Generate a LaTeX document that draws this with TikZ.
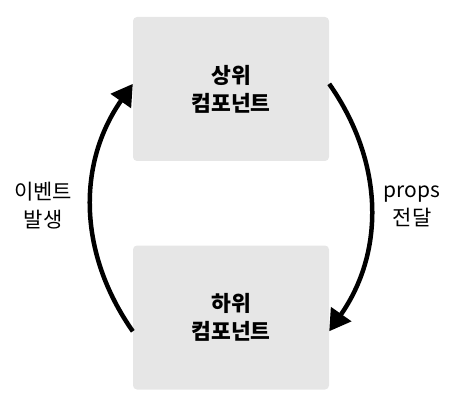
\documentclass[tikz,border=0pt]{standalone}
\usepackage{fontspec}
\newfontfamily\kr{Noto Sans CJK KR}
\usetikzlibrary{arrows.meta}
\begin{document}
\begin{tikzpicture}[x=1pt,y=-1pt,
  box/.style={fill=boxgray, rounded corners=4pt, minimum width=196pt, minimum height=144pt, inner sep=0pt,
    font=\kr\bfseries\fontsize{21.5}{28}\selectfont, align=center},
  lbl/.style={font=\kr\fontsize{21}{28}\selectfont, align=center},
  conn/.style={line width=4.5pt, -{Triangle[length=21pt,width=24pt]}, bend left=35}
]
\definecolor{boxgray}{HTML}{E6E6E6}
\useasboundingbox (0,0) rectangle (466,401);
\node[box] (top) at (231,89) {상위\\컴포넌트};
\node[box] (bot) at (231,317.5) {하위\\컴포넌트};
\node[lbl] (ev) at (43,206) {이벤트\\발생};
\node[lbl] (pr) at (412,206) {props\\전달};
\draw[conn] (bot.188) to (top.177);
\draw[conn] (top.3) to (bot.352);
\end{tikzpicture}
\end{document}
